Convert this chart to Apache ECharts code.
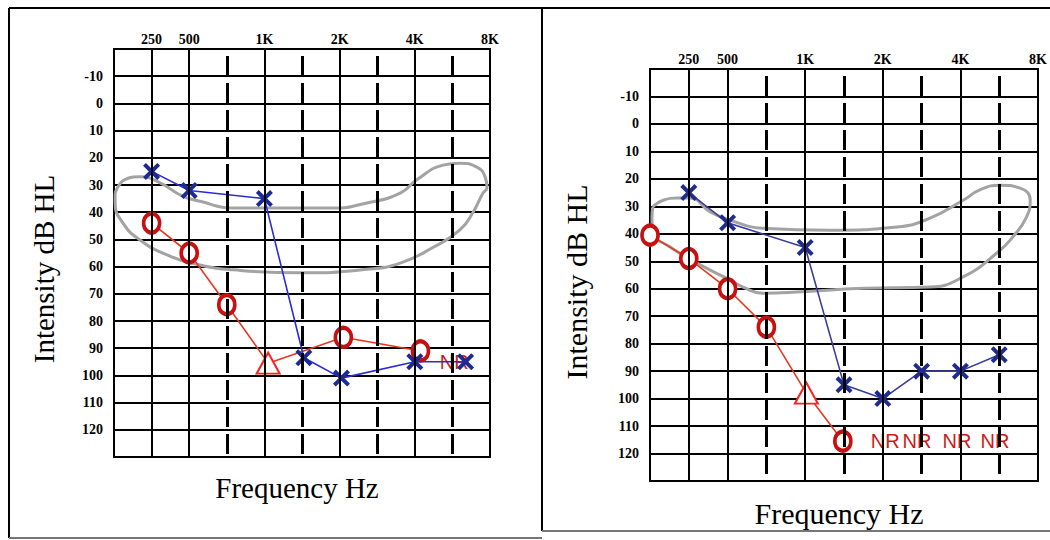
<!DOCTYPE html>
<html>
<head>
<meta charset="utf-8">
<style>
  html, body { margin: 0; padding: 0; background: #fff; }
  #chart { width: 1050px; height: 540px; }
</style>
<script src="https://cdn.jsdelivr.net/npm/echarts@6/dist/echarts.min.js"></script>
</head>
<body>
<div id="chart"></div>
<script>
// frequency columns: 0 = left edge, 1 = 250 Hz ... 10 = 8K
const freqLabels = ["", "250", "500", "", "1K", "", "2K", "", "4K", "", "8K"];
const solidCols = [1, 2, 4, 6, 8];
const dashedCols = [3, 5, 7, 9];

// left audiogram
const leftBlue = [[1, 25], [2, 32], [4, 35], [5.05, 93.5], [6.05, 101], [8, 95], [9.35, 95]];
const leftRed = [[1, 44], [2, 55], [3, 74], [4.1, 95.5], [6.1, 86], [8.15, 91]];
const leftRedMarks = ["o", "o", "o", "tri", "o", "o"];
const leftNR = [[9.05, 95]];
const leftBanana = [
  [0.03, 33], [0.29, 28], [0.69, 27], [1.2, 29], [1.81, 34], [2.29, 36], [3.16, 38.5],
  [5.82, 38.5], [6.73, 36.6], [7.61, 33], [8.06, 28], [8.75, 22.7], [9.2, 22], [9.65, 23.4],
  [9.87, 27], [9.92, 31], [9.81, 33], [9.55, 40], [9.2, 46.5], [8.48, 53], [7.61, 58.7],
  [6.73, 61], [4.95, 62.3], [3.16, 61.2], [2.29, 59.4], [1.41, 55.7], [0.69, 50.2],
  [0.24, 44], [0.03, 36.6], [0.03, 33]
];

// right audiogram
const rightBlue = [[1, 25], [2, 36], [4, 45], [5, 95], [6, 100], [7, 90], [8, 90], [9, 84]];
const rightRed = [[0, 40.5], [1, 49], [2, 60], [3, 74], [4.03, 98], [4.97, 115.5]];
const rightRedMarks = ["o", "o", "o", "o", "tri", "o"];
const rightNR = [[6.06, 115.3], [6.88, 115.3], [7.91, 115.3], [8.89, 115.3]];
const rightBanana = [
  [0.08, 30], [0.34, 27.8], [0.7, 27], [1.03, 27], [1.55, 32], [2.06, 35], [2.9, 38],
  [4.64, 38.7], [6.37, 37.5], [7.2, 34.4], [8.07, 27.8], [8.5, 24], [9.02, 22.3],
  [9.54, 23.4], [9.8, 27.8], [9.7, 34], [9.36, 41], [8.94, 47], [8.07, 55.7], [7.2, 59.4],
  [5.5, 59.8], [3.78, 61.2], [2.9, 61.6], [2.4, 59.4], [2.06, 56.8], [1.2, 50.6],
  [0.52, 44.8], [0.08, 39.7], [0.05, 34], [0.08, 30]
];

const SERIF = "Liberation Serif";
const crossPath = "path://M0,2.3L2.3,0L14,11.7L11.7,14ZM11.7,0L14,2.3L2.3,14L0,11.7Z";

function redItems(points, marks) {
  return points.map((p, i) => {
    if (marks[i] === "tri") {
      return {
        value: p,
        symbol: "triangle",
        symbolSize: [23, 21],
        itemStyle: { color: "#fff", borderColor: "#ff2020", borderWidth: 2 },
      };
    }
    return {
      value: p,
      symbol: "circle",
      symbolSize: [16, 19],
      itemStyle: { color: "#fff", borderColor: "#c81010", borderWidth: 4 },
    };
  });
}

function gridLines(idx) {
  const solid = solidCols.map((c) => ({ xAxis: c, lineStyle: { color: "#000", width: 2, type: "solid" } }));
  const dashed = dashedCols.map((c) => ({
    xAxis: c,
    lineStyle: { color: "#000", width: 3, type: [20, 7], dashOffset: 20 },
  }));
  return {
    type: "line",
    xAxisIndex: idx,
    yAxisIndex: idx,
    data: [],
    z: 1,
    silent: true,
    markLine: {
      silent: true,
      symbol: ["none", "none"],
      label: { show: false },
      animation: false,
      data: solid.concat(dashed),
    },
  };
}

function panelSeries(idx, banana, blue, red, marks, nr, blueLine, blueMark) {
  return [
    gridLines(idx),
    {
      type: "line",
      xAxisIndex: idx,
      yAxisIndex: idx,
      data: banana,
      smooth: 0.5,
      symbol: "none",
      z: 2,
      lineStyle: { color: "#a3a3a3", width: 3 },
    },
    {
      type: "scatter",
      xAxisIndex: idx,
      yAxisIndex: idx,
      data: nr,
      symbolSize: 1,
      z: 2,
      itemStyle: { color: "rgba(0,0,0,0)", opacity: 1 },
      label: {
        show: true,
        position: "inside",
        formatter: "NR",
        color: "#d01818",
        opacity: 1,
        fontFamily: "Liberation Sans",
        fontWeight: 500,
        fontSize: 20,
      },
    },
    {
      type: "line",
      xAxisIndex: idx,
      yAxisIndex: idx,
      data: redItems(red, marks),
      z: 3,
      lineStyle: { color: "#e5391f", width: 1.6 },
    },
    {
      type: "line",
      xAxisIndex: idx,
      yAxisIndex: idx,
      data: blue,
      symbol: crossPath,
      symbolSize: 17,
      z: 4,
      lineStyle: { color: blueLine, width: 1.6 },
      itemStyle: { color: blueMark },
    },
  ];
}

function xAxisFor(idx) {
  return {
    type: "value",
    gridIndex: idx,
    position: "top",
    min: 0,
    max: 10,
    interval: 1,
    axisLine: { show: false },
    axisTick: { show: false },
    splitLine: { show: false },
    axisLabel: {
      margin: 3,
      color: "#000",
      fontFamily: SERIF,
      fontWeight: "bold",
      fontSize: 14,
      formatter: (v) => freqLabels[v] || "",
    },
  };
}

function yAxisFor(idx) {
  return {
    type: "value",
    gridIndex: idx,
    inverse: true,
    min: -20,
    max: 130,
    interval: 10,
    axisLine: { show: false },
    axisTick: { show: false },
    splitLine: { show: true, lineStyle: { color: "#000", width: 2 } },
    axisLabel: {
      margin: 11,
      color: "#000",
      fontFamily: SERIF,
      fontWeight: "bold",
      fontSize: 14,
      formatter: (v) => (v === -20 || v === 130 ? "" : String(v)),
    },
  };
}

function titleText(x, y, text, rotate, size) {
  return {
    type: "text",
    x: x,
    y: y,
    rotation: rotate ? Math.PI / 2 : 0,
    style: {
      text: text,
      fill: "#000",
      font: size + "px " + SERIF,
      align: "center",
      verticalAlign: "middle",
    },
  };
}

function frameLine(x1, y1, x2, y2, color) {
  return { type: "line", shape: { x1, y1, x2, y2 }, style: { stroke: color, lineWidth: 2 } };
}

const chart = echarts.init(document.getElementById("chart"), null, { renderer: "svg" });

chart.setOption({
  animation: false,
  backgroundColor: "#fff",
  grid: [
    { left: 114, top: 49, width: 376, height: 408, show: true, borderColor: "#000", borderWidth: 2, backgroundColor: "#fff" },
    { left: 650, top: 69, width: 388, height: 412, show: true, borderColor: "#000", borderWidth: 2, backgroundColor: "#fff" },
  ],
  xAxis: [xAxisFor(0), xAxisFor(1)],
  yAxis: [yAxisFor(0), yAxisFor(1)],
  series: [
    ...panelSeries(0, leftBanana, leftBlue, leftRed, leftRedMarks, leftNR, "#2b2bd9", "#1b2a94"),
    ...panelSeries(1, rightBanana, rightBlue, rightRed, rightRedMarks, rightNR, "#3b3b9c", "#1e2c8e"),
  ],
  graphic: [
    frameLine(9, 8, 1050, 8, "#000"),
    frameLine(9, 8, 9, 538, "#000"),
    frameLine(542, 8, 542, 531, "#000"),
    frameLine(9, 538, 542, 538, "#777"),
    frameLine(542, 531, 1050, 531, "#777"),
    titleText(44, 269, "Intensity dB HL", true, 29),
    titleText(576, 282, "Intensity dB HL", true, 30),
    titleText(297, 488, "Frequency Hz", false, 29),
    titleText(839, 513, "Frequency Hz", false, 30),
  ],
});
</script>
</body>
</html>
